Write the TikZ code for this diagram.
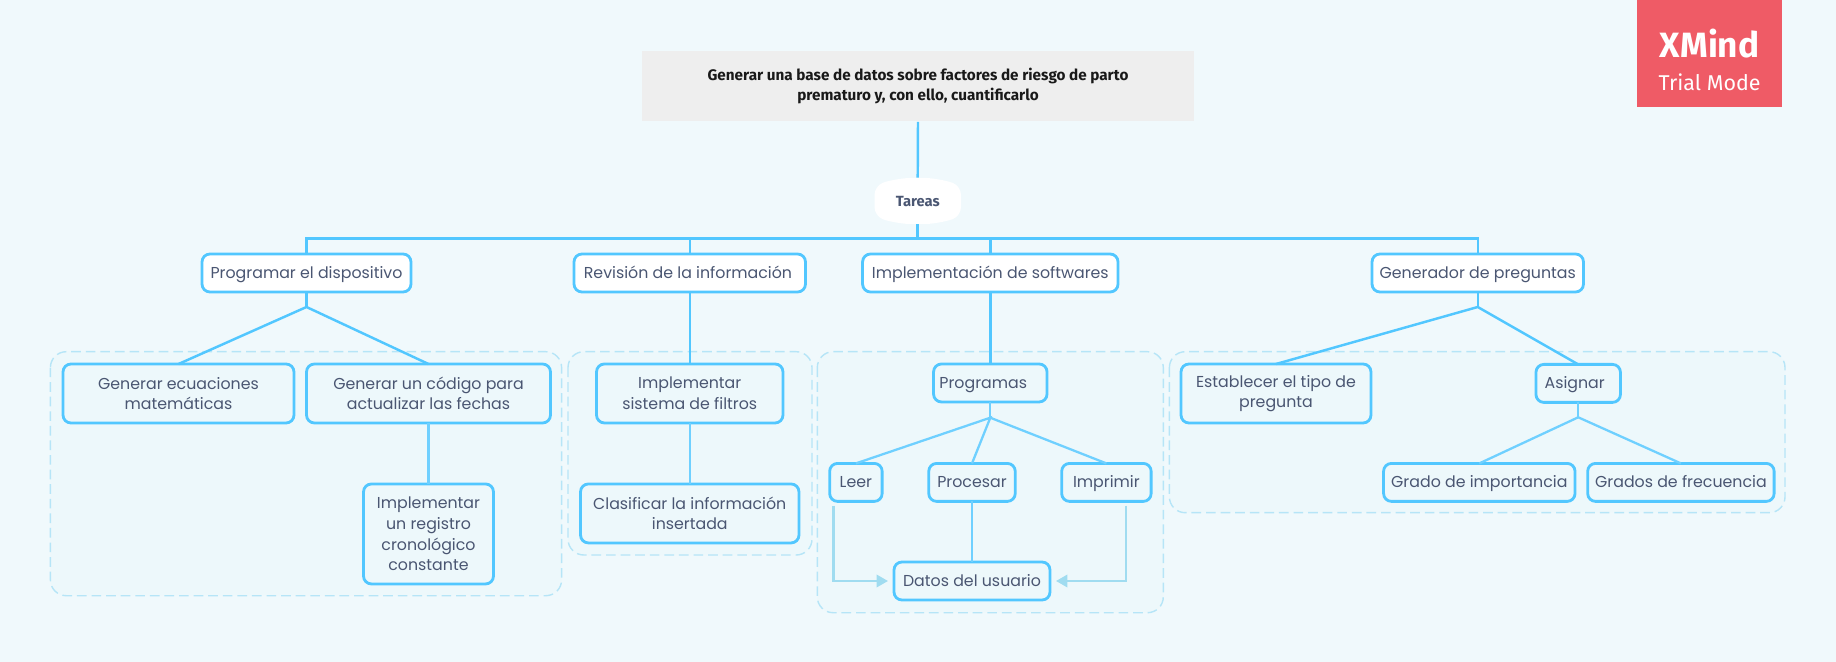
\documentclass[tikz,border=0pt]{standalone}
\usepackage{fontspec}
\setmainfont{Poppins}
\newfontfamily\boldfont{Fira Sans}
\usetikzlibrary{arrows.meta,positioning}
\definecolor{paper}{HTML}{F0F9FC}
\definecolor{groupfill}{HTML}{EDF8FB}
\definecolor{groupline}{HTML}{B6E5F7}
\definecolor{linkblue}{HTML}{52C7FF}
\definecolor{softlink}{HTML}{6FD0FF}
\definecolor{arrowblue}{HTML}{A0DCF0}
\definecolor{textblue}{HTML}{4A5672}
\definecolor{rootgrey}{HTML}{EEEEEE}
\definecolor{badge}{HTML}{EF5B66}
\begin{document}
\begin{tikzpicture}[x=0.02cm,y=-0.02cm,
 card/.style={rounded corners=4.5pt,draw=linkblue,line width=1.6pt,fill=groupfill,align=center,inner sep=0pt,outer sep=0pt,text=textblue,font=\fontsize{9}{11.7}\selectfont},
 onecard/.style={card,minimum height=0.76cm,text height=7.7pt,text depth=1.5pt},
 topcard/.style={onecard,fill=white},
 link/.style={draw=linkblue,line width=1.4pt},
 sublink/.style={draw=softlink,line width=1.3pt},
 feedback/.style={draw=arrowblue,line width=1.4pt,-{Triangle[length=6.5pt,width=7pt]}},
 grupo/.style={rounded corners=9pt,draw=groupline,fill=groupfill,line width=0.8pt,dash pattern=on 5.5pt off 2.8pt}]
\useasboundingbox (0,0) rectangle (1836,662);
\fill[paper] (0,0) rectangle (1836,662);
% grupos
\draw[grupo] (50.4,351.7) rectangle (561.6,595.7);
\draw[grupo] (568,351.7) rectangle (812,555);
\draw[grupo] (817.3,351.7) rectangle (1163.3,612.7);
\draw[grupo] (1169.4,351.7) rectangle (1785,512.7);
% centro
\node[fill=rootgrey,minimum width=11.06cm,minimum height=1.42cm,inner sep=0pt,align=center,text=black!90,font=\boldfont\bfseries\fontsize{8.7}{11.6}\selectfont] (root) at (918,86) {Generar una base de datos sobre factores de riesgo de parto\\prematuro y, con ello, cuantificarlo};
\fill[white,rounded corners=5pt] (874.5,186) .. controls (890,180) and (905,178) .. (917.7,178) .. controls (930,178) and (945,180) .. (961,186) -- (961,216) .. controls (945,222) and (930,224) .. (917.7,224) .. controls (905,224) and (890,222) .. (874.5,216) -- cycle;
\node[inner sep=0pt,minimum width=1.73cm,minimum height=0.92cm,text height=6.2pt,text depth=0pt,text=textblue,font=\boldfont\bfseries\fontsize{8.4}{10}\selectfont] (tareas) at (917.7,201) {Tareas};
\coordinate (bus) at (917.7,238.5);
% primer nivel
\node[topcard,minimum width=4.18cm] (prog) at (306.5,273) {Programar el dispositivo};
\node[topcard,minimum width=4.63cm] (rev) at (689.75,273) {Revisión de la información\hspace{2pt}};
\node[topcard,minimum width=5.11cm] (impl) at (990.3,273) {Implementación de softwares};
\node[topcard,minimum width=4.23cm] (gen) at (1477.75,273) {Generador de preguntas};
% programar
\node[card,minimum width=4.62cm,minimum height=1.18cm] (ecua) at (178.5,393.5) {Generar ecuaciones\\matemáticas};
\node[card,minimum width=4.88cm,minimum height=1.18cm] (codigo) at (428.5,393.5) {Generar un código para\\actualizar las fechas};
\node[card,minimum width=2.6cm,minimum height=2.0cm,below=1.22cm of codigo] (registro) {Implementar\\un registro\\cronológico\\constante};
% revision
\node[card,minimum width=3.73cm,minimum height=1.18cm,below=1.44cm of rev] (filtros) {Implementar\\sistema de filtros};
\node[card,minimum width=4.37cm,minimum height=1.18cm,below=1.22cm of filtros] (clasif) {Clasificar la información\\insertada};
% softwares
\node[onecard,minimum width=2.27cm,below=1.44cm of impl] (progs) {Programas\hspace{8pt}};
\node[onecard,minimum width=1.05cm] (leer) at (855.9,482.4) {Leer};
\node[onecard,minimum width=1.73cm] (proc) at (972,482.4) {Procesar};
\node[onecard,minimum width=1.79cm] (impr) at (1106.4,482.4) {Imprimir};
\node[onecard,minimum width=3.12cm] (datos) at (972,581) {Datos del usuario};
\coordinate (leerfin) at (833.7,505.7);
\coordinate (imprfin) at (1126,505.7);
% preguntas
\node[card,minimum width=3.8cm,minimum height=1.18cm] (tipo) at (1276,393.5) {Establecer el tipo de\\pregunta};
\node[onecard,minimum width=1.69cm] (asig) at (1578.2,383.4) {Asignar\hspace{4pt}};
\node[onecard,minimum width=3.83cm] (impo) at (1479.3,482.4) {Grado de importancia};
\node[onecard,minimum width=3.73cm] (frec) at (1680.9,482.4) {Grados de frecuencia};
% enlaces
\draw[link] (root.south) -- (tareas.north);
\draw[link] (tareas.south) -- (bus);
\draw[link] (prog.north) |- (bus) -| (gen.north);
\draw[link] (rev.north) -- (rev.north |- bus);
\draw[link] (impl.north) -- (impl.north |- bus);
\coordinate (progj) at (306.5,307);
\coordinate (genj) at (1477.75,307);
\coordinate (progsj) at (990.3,417.7);
\coordinate (asigj) at (1578.2,417.3);
\draw[link] (prog.south) -- (progj);
\draw[link] (ecua.north) -- (progj) -- (codigo.north);
\draw[link] (rev.south) -- (filtros.north);
\draw[sublink] (filtros.south) -- (clasif.north);
\draw[sublink] (codigo.south) -- (registro.north);
\draw[link] (impl.south) -- (progs.north);
\draw[sublink] (progs.south) -- (progsj);
\draw[sublink] (leer.north) -- (progsj) -- (proc.north);
\draw[sublink] (progsj) -- (impr.north);
\draw[sublink] (proc.south) -- (datos.north);
\draw[feedback] (leerfin) |- ([xshift=-0.12cm]datos.west);
\draw[feedback] (imprfin) |- ([xshift=0.12cm]datos.east);
\draw[link] (gen.south) -- (genj);
\draw[link] (tipo.north) -- (genj) -- (asig.north);
\draw[sublink] (asig.south) -- (asigj);
\draw[sublink] (impo.north) -- (asigj) -- (frec.north);
% marca
\fill[badge] (1637.3,0) rectangle (1782,106.7);
\node[inner sep=0pt,align=center,text=white,font=\boldfont\fontsize{12.2}{18.5}\selectfont] (marca) at (1709.6,60) {{\fontsize{20}{18.5}\selectfont\bfseries XMind}\\Trial Mode};
\end{tikzpicture}
\end{document}
